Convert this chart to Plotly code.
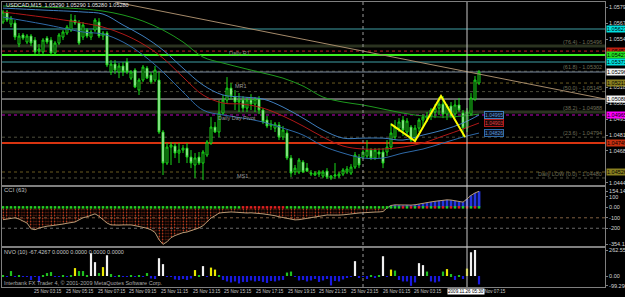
import plotly.graph_objects as go

# ---------------- data ----------------
open_ = [
    1.05681, 1.05758, 1.05665, 1.05673, 1.05511, 1.05581, 1.05527, 1.05573, 1.05542, 1.05457,
    1.05450, 1.05557, 1.05542, 1.05442, 1.05519, 1.05565, 1.05596, 1.05619, 1.05696, 1.05673,
    1.05565, 1.05619, 1.05565, 1.05619, 1.05681, 1.05573, 1.05596, 1.05296, 1.05357, 1.05296,
    1.05342, 1.05373, 1.05249, 1.05311, 1.05157, 1.05234, 1.05326, 1.05273, 1.05234, 1.05234,
    1.04834, 1.04595, 1.04718, 1.04726, 1.04672, 1.04695, 1.04710, 1.04641, 1.04580, 1.04641,
    1.04595, 1.04657, 1.04749, 1.04872, 1.04834, 1.04980, 1.05080, 1.05172, 1.05103, 1.05065,
    1.05080, 1.05018, 1.05080, 1.05049, 1.05088, 1.05003, 1.04926, 1.04880, 1.04864, 1.04888,
    1.04795, 1.04826, 1.04634, 1.04526, 1.04526, 1.04603, 1.04556, 1.04510, 1.04503, 1.04510,
    1.04495, 1.04533, 1.04479, 1.04495, 1.04495, 1.04510, 1.04526, 1.04518, 1.04564, 1.04641,
    1.04641, 1.04649, 1.04695, 1.04634, 1.04680, 1.04680, 1.04680, 1.04718, 1.04795, 1.04864,
    1.04926, 1.04834, 1.04872, 1.04787, 1.04864, 1.04926, 1.04941, 1.04957, 1.04988, 1.05018,
    1.05049, 1.04972, 1.05034, 1.04972, 1.05042, 1.04980, 1.04864, 1.04972, 1.05088, 1.05211,
]
high = [
    1.05773, 1.05773, 1.05727, 1.05696, 1.05596, 1.05596, 1.05588, 1.05588, 1.05565, 1.05511,
    1.05557, 1.05573, 1.05565, 1.05534, 1.05596, 1.05619, 1.05658, 1.05742, 1.05735, 1.05696,
    1.05681, 1.05634, 1.05619, 1.05711, 1.05711, 1.05611, 1.05611, 1.05388, 1.05388, 1.05365,
    1.05373, 1.05403, 1.05311, 1.05326, 1.05249, 1.05350, 1.05342, 1.05296, 1.05342, 1.05296,
    1.04849, 1.04749, 1.04757, 1.04749, 1.04749, 1.04734, 1.04749, 1.04695, 1.04672, 1.04680,
    1.04695, 1.04772, 1.04949, 1.04911, 1.05080, 1.05119, 1.05257, 1.05211, 1.05157, 1.05134,
    1.05111, 1.05103, 1.05126, 1.05103, 1.05111, 1.05018, 1.04957, 1.04926, 1.04911, 1.04911,
    1.04880, 1.04849, 1.04657, 1.04580, 1.04634, 1.04618, 1.04595, 1.04541, 1.04533, 1.04541,
    1.04541, 1.04556, 1.04503, 1.04595, 1.04526, 1.04556, 1.04572, 1.04587, 1.04680, 1.04664,
    1.04695, 1.04772, 1.04710, 1.04710, 1.04710, 1.04710, 1.04772, 1.04903, 1.04926, 1.04941,
    1.04957, 1.04941, 1.04888, 1.04888, 1.04941, 1.04972, 1.04988, 1.05018, 1.05049, 1.05103,
    1.05111, 1.05049, 1.05065, 1.05080, 1.05096, 1.05003, 1.05018, 1.05134, 1.05265, 1.05311,
]
low = [
    1.05665, 1.05681, 1.05642, 1.05542, 1.05488, 1.05542, 1.05511, 1.05496, 1.05434, 1.05427,
    1.05434, 1.05511, 1.05427, 1.05427, 1.05504, 1.05542, 1.05581, 1.05604, 1.05658, 1.05504,
    1.05542, 1.05557, 1.05542, 1.05604, 1.05557, 1.05542, 1.05334, 1.05273, 1.05280, 1.05249,
    1.05265, 1.05280, 1.05234, 1.05172, 1.05119, 1.05219, 1.05242, 1.05203, 1.05219, 1.04818,
    1.04503, 1.04580, 1.04580, 1.04634, 1.04595, 1.04672, 1.04595, 1.04556, 1.04479, 1.04580,
    1.04464, 1.04641, 1.04734, 1.04826, 1.04795, 1.04965, 1.05049, 1.05080, 1.05003, 1.04988,
    1.04988, 1.04988, 1.05003, 1.04988, 1.04972, 1.04895, 1.04864, 1.04849, 1.04834, 1.04772,
    1.04772, 1.04618, 1.04487, 1.04503, 1.04510, 1.04518, 1.04526, 1.04495, 1.04495, 1.04487,
    1.04479, 1.04472, 1.04464, 1.04472, 1.04479, 1.04495, 1.04510, 1.04503, 1.04549, 1.04556,
    1.04626, 1.04634, 1.04618, 1.04618, 1.04634, 1.04556, 1.04649, 1.04695, 1.04772, 1.04834,
    1.04803, 1.04811, 1.04757, 1.04757, 1.04834, 1.04880, 1.04911, 1.04926, 1.04941, 1.04965,
    1.04941, 1.04926, 1.04941, 1.04941, 1.04988, 1.04795, 1.04834, 1.04957, 1.05072, 1.05196,
]
close = [
    1.05758, 1.05696, 1.05711, 1.05565, 1.05573, 1.05557, 1.05573, 1.05519, 1.05450, 1.05473,
    1.05542, 1.05527, 1.05442, 1.05519, 1.05581, 1.05604, 1.05642, 1.05696, 1.05673, 1.05519,
    1.05658, 1.05573, 1.05604, 1.05696, 1.05573, 1.05596, 1.05350, 1.05357, 1.05311, 1.05342,
    1.05296, 1.05296, 1.05296, 1.05180, 1.05234, 1.05334, 1.05249, 1.05219, 1.05311, 1.04834,
    1.04595, 1.04718, 1.04734, 1.04672, 1.04695, 1.04710, 1.04641, 1.04595, 1.04634, 1.04595,
    1.04680, 1.04757, 1.04872, 1.04834, 1.04980, 1.05080, 1.05172, 1.05111, 1.05065, 1.05080,
    1.05018, 1.05080, 1.05049, 1.05088, 1.05003, 1.04911, 1.04880, 1.04895, 1.04895, 1.04795,
    1.04849, 1.04634, 1.04518, 1.04556, 1.04618, 1.04526, 1.04533, 1.04518, 1.04518, 1.04526,
    1.04526, 1.04487, 1.04495, 1.04503, 1.04510, 1.04541, 1.04549, 1.04564, 1.04657, 1.04580,
    1.04680, 1.04695, 1.04634, 1.04695, 1.04664, 1.04595, 1.04718, 1.04826, 1.04872, 1.04911,
    1.04849, 1.04918, 1.04772, 1.04864, 1.04926, 1.04949, 1.04957, 1.05003, 1.05018, 1.05049,
    1.04972, 1.05034, 1.04957, 1.05042, 1.05003, 1.04864, 1.04988, 1.05096, 1.05234, 1.05296,
]

ma_idx = [0, 10, 20, 25, 30, 35, 40, 45, 50, 55, 60, 65, 70, 75, 80, 85, 90, 95, 100, 105, 110, 115, 119]
ma_upper = [1.05788, 1.05773, 1.05758, 1.05742, 1.05658, 1.05573, 1.05465, 1.05326, 1.05196, 1.05119, 1.05103, 1.05088,
            1.05026, 1.04941, 1.04849, 1.04787, 1.04787, 1.04787, 1.04772, 1.04811, 1.04849, 1.04903, 1.04965]
ma_mid = [1.05758, 1.05719, 1.05673, 1.05642, 1.05588, 1.05511, 1.05403, 1.05257, 1.05119, 1.05057, 1.05049, 1.05018,
          1.04957, 1.04880, 1.04795, 1.04726, 1.04703, 1.04703, 1.04718, 1.04749, 1.04803, 1.04857, 1.04903]
ma_lower = [1.05719, 1.05665, 1.05604, 1.05588, 1.05527, 1.05427, 1.05296, 1.05142, 1.05003, 1.04965, 1.04941, 1.04911,
            1.04864, 1.04811, 1.04726, 1.04672, 1.04634, 1.04634, 1.04672, 1.04703, 1.04749, 1.04795, 1.04826]
ma_slow = [1.05804, 1.05796, 1.05781, 1.05765, 1.05735, 1.05688, 1.05619, 1.05527, 1.05411, 1.05365, 1.05326, 1.05288,
           1.05249, 1.05188, 1.05103, 1.05065, 1.05042, 1.05011, 1.04980, 1.04957, 1.04949, 1.04957, 1.04972]

trend_idx = [28, 150.5]
trend_val = [1.05835, 1.05088]

zz_idx = [97, 103, 109.5, 115.5]
zz_val = [1.04895, 1.04764, 1.05111, 1.04795]

cyan_levels = [1.05627, 1.05373]
r1_level = 1.05457
green_level = 1.05427
mr1_level = 1.05211
white_level = 1.05088
pivot_level = 1.04965
red_level = 1.04749
ms1_level = 1.04526
fib_levels = [1.04480, 1.04794, 1.04988, 1.05145, 1.05302, 1.05496]
fib_names = ["Daily LOW (0.0)", "(23.6)", "(38.2)", "(50.0)", "(61.8)", "(76.4)"]

# visible price labels (the others sit under the coloured price boxes)
price_ticks = [1.05795, 1.05672, 1.05549, 1.05180, 1.05057, 1.04934, 1.04811, 1.04688, 1.04442]

cci = [
    -118, -110, -104, -100, -112, -135, -150, -205, -214, -198,
    -188, -180, -176, -172, -168, -160, -152, -146, -140, -120,
    -100, -90, -75, -62, -85, -120, -150, -168, -172, -170,
    -168, -166, -168, -175, -182, -188, -200, -215, -240, -310,
    -354.125, -330, -290, -270, -255, -242, -236, -225, -212, -197,
    -175, -140, -102, -80, -55, -50, -46, -44, -46, -50,
    -54, -54, -52, -53, -55, -62, -68, -72, -80, -90,
    -98, -104, -112, -120, -118, -112, -105, -100, -94, -86,
    -78, -73, -74, -76, -74, -72, -66, -60, -56, -54,
    -52, -48, -44, -45, -44, -40, -6, 18, 24, 22,
    20, 24, 22, 25, 30, 38, 45, 52, 58, 64,
    70, 72, 70, 62, 56, 50, 80, 115, 138, 154.1488,
]
cci_ticks = [154.1488, 100, 0, -100, -200, -354.125]
cci_ticktext = ["154.1488", "100", "0.00", "-100", "-200", "-354.125"]

nvo = [
    10, -5, 50, -3, 5, -8, -5, -40, -10, -60,
    5, 30, 40, -5, -8, 3, -5, 5, 80, 50,
    50, 8, 230, 140, 30, 90, 210, 20, -5, 5,
    -10, -8, 10, -5, 5, -8, 30, -25, -30, 180,
    120, -10, -5, -35, -40, -30, -40, -25, 60, 5,
    100, -8, 85, 65, 5, -40, -55, -65, -55, -75,
    -60, -60, -45, -55, -50, -60, -70, -50, -55, -45,
    -40, 35, 45, -5, -45, -40, -55, -45, -30, -60,
    -45, -30, -95, -50, -55, -35, -20, -10, 150, -20,
    -10, -30, 5, -15, 5, 200, -5, 65, 55, -40,
    -55, -55, -99.2902, -65, 130, 110, 45, -55, -65, -55,
    45, 70, 20, -40, 8, -30, 75, 240, 262.5597, -85,
]
nvo_ticks = [262.5597, 0, -99.2902]
nvo_ticktext = ["262.5597", "0.00", "-99.2902"]

time_pos = [-0.3, 7.5, 15.5, 23.5, 31.3, 39.3, 47.3, 55, 63, 71, 78.8, 86.8, 94.8, 102.5, 118.5]
time_text = ["25 Nov 2009", "25 Nov 03:15", "25 Nov 05:15", "25 Nov 07:15", "25 Nov 09:15", "25 Nov 11:15",
             "25 Nov 13:15", "25 Nov 15:15", "25 Nov 17:15", "25 Nov 19:15", "25 Nov 21:15", "25 Nov 23:15",
             "26 Nov 01:15", "26 Nov 03:15", "26 Nov 07:15"]
cursor_bar = 116
cursor_text = "2009.11.26 05:30"
dashed_bar = 90

header = "USDCAD,M15  1.05290 1.05290 1.05280 1.05280"

# ---------------- figure ----------------
n = len(close)
bars = list(range(n))
FONT = "Liberation Sans"
FS = 5.5
TFS = 4.6

fig = go.Figure()

fig.add_trace(go.Scatter(x=trend_idx, y=trend_val, mode="lines", line=dict(color="#a58a6a", width=1),
                         hoverinfo="skip", xaxis="x", yaxis="y"))
fig.add_trace(go.Scatter(x=ma_idx, y=ma_slow, mode="lines", line=dict(color="#1e9a1e", width=1, shape="spline"),
                         xaxis="x", yaxis="y"))
fig.add_trace(go.Scatter(x=ma_idx, y=ma_upper, mode="lines", line=dict(color="#3f7fbf", width=1, shape="spline"),
                         xaxis="x", yaxis="y"))
fig.add_trace(go.Scatter(x=ma_idx, y=ma_mid, mode="lines", line=dict(color="#b01818", width=1, shape="spline"),
                         xaxis="x", yaxis="y"))
fig.add_trace(go.Scatter(x=ma_idx, y=ma_lower, mode="lines", line=dict(color="#2f6aa8", width=1, shape="spline"),
                         xaxis="x", yaxis="y"))

fig.add_trace(go.Candlestick(
    x=bars, open=open_, high=high, low=low, close=close, xaxis="x", yaxis="y",
    increasing=dict(line=dict(color="#19d819", width=1), fillcolor="#000000"),
    decreasing=dict(line=dict(color="#19d819", width=1), fillcolor="#f2f2f2"),
    whiskerwidth=0, hoverinfo="skip"))

fig.add_trace(go.Scatter(x=zz_idx, y=zz_val, mode="lines", line=dict(color="#ffff00", width=2),
                         xaxis="x", yaxis="y"))

# CCI panel
cci_colors = ["#2436e0" if v > 0 else "#b0361a" for v in cci]
cci_shapes = ["" if v > 0 else "." for v in cci]
fig.add_trace(go.Bar(x=bars, y=cci, width=0.7, xaxis="x2", yaxis="y2",
                     marker=dict(color=cci_colors, line=dict(width=0),
                                 pattern=dict(shape=cci_shapes, fgcolor="#2e8b22", size=3, solidity=0.3))))
fig.add_trace(go.Scatter(x=bars, y=cci, mode="lines", line=dict(color="#b89a74", width=1),
                         xaxis="x2", yaxis="y2"))
dot_colors = ["#e02020" if (60 <= i <= 70 or (i >= 100 and i % 2 == 0)) else "#22d022" for i in bars]
fig.add_trace(go.Scatter(x=bars, y=[0] * n, mode="markers", xaxis="x2", yaxis="y2",
                         marker=dict(symbol="square", size=2.5, color=dot_colors, line=dict(width=0))))

# NVO panel
def vcol(v):
    if v < 0:
        return "#1a1ae0"
    if v >= 95:
        return "#f0f0f0"
    if v >= 58:
        return "#e8e800"
    return "#20c020"

fig.add_trace(go.Bar(x=bars, y=nvo, width=0.55, xaxis="x3", yaxis="y3",
                     marker=dict(color=[vcol(v) for v in nvo], line=dict(width=0))))

# ---------------- shapes ----------------
shapes = []

def hline(y, color, width=1, dash="solid"):
    shapes.append(dict(type="line", xref="x domain", x0=0, x1=1, yref="y", y0=y, y1=y,
                       line=dict(color=color, width=width, dash=dash), layer="below"))

for lv in cyan_levels:
    hline(lv, "#3f9ea4", 1)
for k, lv in enumerate(fib_levels):
    if fib_names[k] in ("(76.4)", "(38.2)"):
        hline(lv, "#2b3320", 3)
    else:
        hline(lv, "#4e4e3c", 1, "dot")
hline(r1_level, "#c02020", 1, "dot")
hline(green_level, "#3cf020", 2)
hline(close[-1], "#7d8ca0", 1)
hline(mr1_level, "#6a5a20", 1, "dot")
hline(white_level, "#c8c8c8", 1)
hline(pivot_level, "#c000c0", 1, "dot")
hline(red_level, "#d83410", 2)
hline(ms1_level, "#6a5a20", 1, "dot")

# CCI dotted levels
for lv, col in ((-100, "#806040"), (-200, "#6a6a6a")):
    shapes.append(dict(type="line", xref="x2 domain", x0=0, x1=1, yref="y2", y0=lv, y1=lv,
                       line=dict(color=col, width=1, dash="dot"), layer="below"))

# vertical lines through all panels
shapes.append(dict(type="line", xref="x", x0=dashed_bar, x1=dashed_bar, yref="paper", y0=0, y1=1,
                   line=dict(color="#9a9a9a", width=1, dash="dot")))
shapes.append(dict(type="line", xref="x", x0=cursor_bar, x1=cursor_bar, yref="paper", y0=0, y1=1,
                   line=dict(color="#c8c8c8", width=1)))

# ---------------- annotations ----------------
ann = []

def txt(x, y, s, color="#a0a0a0", xref="x", yref="y", xanchor="left", yanchor="middle", size=FS,
        bg=None, border=None, yshift=0, xshift=0):
    d = dict(x=x, y=y, xref=xref, yref=yref, text=s, showarrow=False, xanchor=xanchor, yanchor=yanchor,
             font=dict(family=FONT, size=size, color=color), yshift=yshift, xshift=xshift, borderpad=0)
    if bg:
        d["bgcolor"] = bg
    if border:
        d["bordercolor"] = border
        d["borderwidth"] = 1
    ann.append(d)

txt(0.005, 0.9895, header, "#e8e8e8", xref="paper", yref="paper")
txt(56.2, 1.05442, "Daily R1", "#8a8a8a")
txt(57.7, 1.05188, "MR1", "#9a9a9a")
txt(53.5, 1.04941, "Daily Day Pivot", "#9a9a9a")
txt(58.2, 1.04495, "MS1", "#9a9a9a")

for k, lv in enumerate(fib_levels):
    txt(0.9967, lv, f"{fib_names[k]} - {lv:.5f}", "#6e6e58", xref="paper", xanchor="right",
        yanchor="bottom", yshift=0)

# MA value boxes
txt(120.3, ma_upper[-1], f"{ma_upper[-1]:.5f}", "#5a9ad8", bg="#0a1020", border="#3f7fbf", size=5)
txt(120.3, ma_mid[-1], f"{ma_mid[-1]:.5f}", "#e04040", bg="#200808", border="#b01818", size=5)
txt(120.3, ma_lower[-1], f"{ma_lower[-1]:.5f}", "#5a9ad8", bg="#0a1020", border="#2f6aa8", size=5)

# price boxes on the right axis
boxes = [(cyan_levels[0], "#00e0e0"), (r1_level, "#c02010"), (green_level, "#20e020"),
         (cyan_levels[1], "#00e0e0"), (close[-1], "#f4f4f4"), (mr1_level, "#8a8020"),
         (white_level, "#f4f4f4"), (pivot_level, "#ff00ff"), (red_level, "#c83010"),
         (ms1_level, "#8a8020")]
for lv, bgc in boxes:
    txt(1.0, lv, f"{lv:.5f}", "#000000", xref="paper", bg=bgc, xshift=1)

# panel titles
txt(0.0017, (287 - 190) / 285, "CCI (63)", "#c0c0c0", xref="paper", yref="paper", size=6)
txt(0.0017, (287 - 252) / 285, "NVO (10) -67.4267 0.0000 0.0000 0.0000 0.0000", "#c8c8c8",
    xref="paper", yref="paper")
txt(0.0017, (287 - 283) / 285, "Interbank FX Trader 4, \u00a9 2001-2009 MetaQuotes Software Corp.", "#a8a8a8",
    xref="paper", yref="paper")

# time axis labels
for p, s in zip(time_pos, time_text):
    txt(p, -0.016, s, "#c8c8c8", xref="x3", yref="paper", size=TFS)
txt(111, -0.016, cursor_text, "#000000", xref="x3", yref="paper", bg="#ffffff", size=TFS)

# ---------------- layout ----------------
axis_common = dict(showgrid=False, zeroline=False, showline=True, mirror=True, linecolor="#7f7f7f",
                   linewidth=1, automargin=False)
yfont = dict(family=FONT, size=FS, color="#d8d8d8")

fig.update_layout(
    template="none",
    width=625, height=297,
    margin=dict(l=2, r=20, t=2, b=10),
    paper_bgcolor="#000000", plot_bgcolor="#000000",
    showlegend=False,
    annotations=ann, shapes=shapes,
    xaxis=dict(domain=[0, 1], range=[-0.25, 150.5], anchor="y", showticklabels=False, ticks="",
               rangeslider=dict(visible=False), **axis_common),
    xaxis2=dict(domain=[0, 1], range=[-0.25, 150.5], anchor="y2", showticklabels=False, ticks="",
                matches="x", **axis_common),
    xaxis3=dict(domain=[0, 1], range=[-0.25, 150.5], anchor="y3", showticklabels=False, ticks="",
                matches="x", **axis_common),
    yaxis=dict(domain=[102 / 285, 1.0], range=[1.04426, 1.05835], side="right", anchor="x",
               tickvals=price_ticks, ticktext=[f"{v:.5f}" for v in price_ticks], tickfont=yfont,
               ticks="outside", ticklen=2, tickcolor="#7f7f7f", **axis_common),
    yaxis2=dict(domain=[41 / 285, 100 / 285], range=[-370, 195], side="right", anchor="x2",
                tickvals=cci_ticks, ticktext=cci_ticktext, tickfont=yfont,
                ticks="outside", ticklen=2, tickcolor="#7f7f7f", **axis_common),
    yaxis3=dict(domain=[0, 39 / 285], range=[-111, 283], side="right", anchor="x3",
                tickvals=nvo_ticks, ticktext=nvo_ticktext, tickfont=yfont,
                ticks="outside", ticklen=2, tickcolor="#7f7f7f", **axis_common),
)

fig.write_html("out.html")
